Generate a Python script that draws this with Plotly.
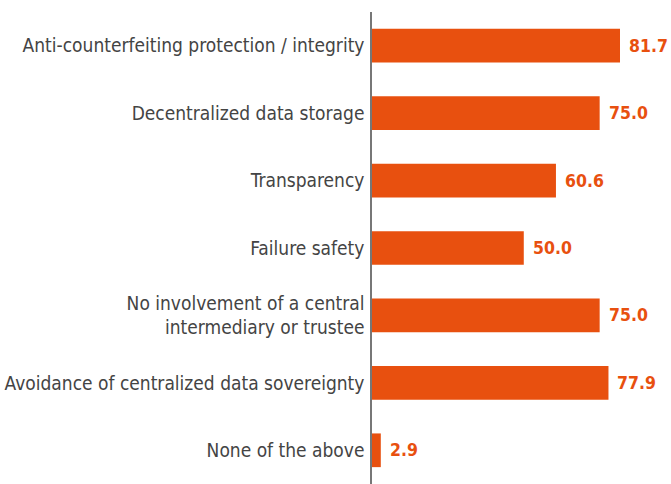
import plotly.graph_objects as go

categories = [
    "Anti-counterfeiting protection / integrity",
    "Decentralized data storage",
    "Transparency",
    "Failure safety",
    "No involvement of a central<br>intermediary or trustee",
    "Avoidance of centralized data sovereignty",
    "None of the above",
]
values = [81.7, 75.0, 60.6, 50.0, 75.0, 77.9, 2.9]
value_labels = [f"{v:.1f}" for v in values]

ORANGE = "#E8500F"
FONT = "DejaVu Sans Condensed"

fig = go.Figure()
fig.add_trace(go.Bar(
    x=values, y=categories, orientation="h",
    marker=dict(color=ORANGE, line=dict(width=0)),
    width=0.5,
    hoverinfo="skip",
))
for c, v, t in zip(categories, values, value_labels):
    fig.add_annotation(
        x=v, y=c, text=f"<b>{t}</b>", showarrow=False,
        xanchor="left", yanchor="middle", xshift=7,
        font=dict(family=FONT, size=17.5, color=ORANGE),
    )

fig.update_layout(
    width=671, height=484,
    margin=dict(l=372, r=0, t=12, b=0),
    paper_bgcolor="white", plot_bgcolor="white",
    showlegend=False,
    bargap=0.5,
)
fig.update_xaxes(range=[0, 98.5], visible=False, fixedrange=True)
fig.update_yaxes(
    autorange=False, range=[6.5, -0.5],
    showline=True, linecolor="#777777", linewidth=1.5,
    showgrid=False, zeroline=False, ticks="",
    ticklabelstandoff=2,
    tickfont=dict(family=FONT, size=19, color="#444444"),
)

fig.write_html(
    "out.html",
    config={"displayModeBar": False},
    post_script="document.body.style.margin='0';document.body.style.overflow='hidden';",
)
